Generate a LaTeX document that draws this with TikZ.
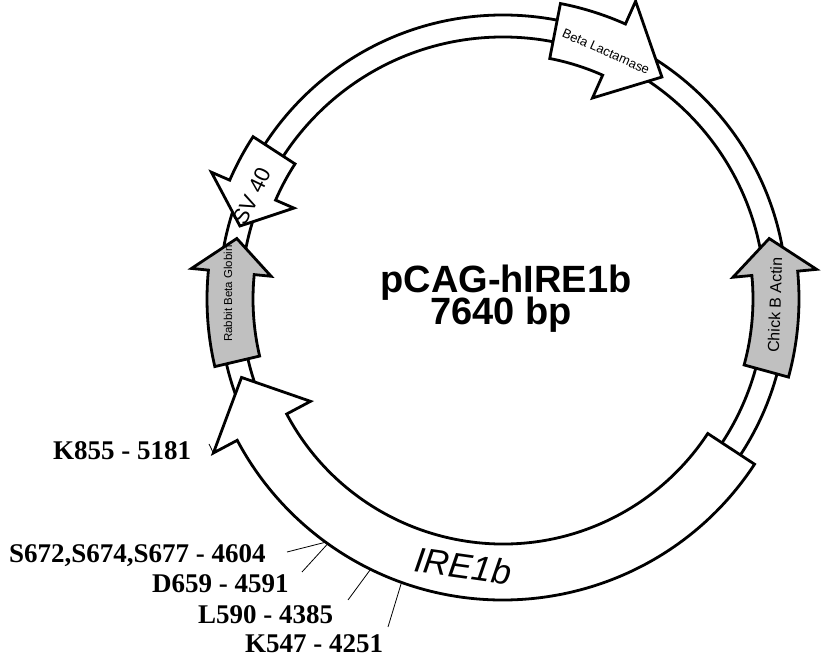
\documentclass[tikz,border=0pt]{standalone}
\usepackage{fontspec}
\setmainfont{Liberation Serif}
\setsansfont{Liberation Sans}
\usepackage{tikz}
\usetikzlibrary{positioning, calc}
\definecolor{pmink}{HTML}{000000}
\definecolor{pmgray}{HTML}{C0C0C0}
% feature arrow on the ring: tail, head base, tip angle, half width, head half width, style
\newcommand{\featarrow}[6]{%
  \draw[#6] ({#1}:{273+#4}) arc[start angle={#1}, end angle={#2}, radius={273+#4}]
    -- ({#2}:{273+#5}) -- ({#3}:273) -- ({#2}:{273-#5})
    -- ({#2}:{273-#4}) arc[start angle={#2}, end angle={#1}, radius={273-#4}] -- cycle;}
\newcommand{\fs}[1]{\fontsize{#1}{#1}\selectfont}

\begin{document}
\begin{tikzpicture}[
  x=1pt, y=1pt,
  ring/.style={draw=pmink, line width=2.8pt},
  feat/.style={draw=pmink, line width=2.8pt, fill=white},
  gfeat/.style={feat, fill=pmgray},
  flabel/.style={font=\sffamily\fs{#1}, inner sep=0pt},
  lbl/.style={font=\bfseries\fs{27}, inner sep=0pt, anchor=base west},
  lead/.style={draw=pmink, line width=0.8pt}
]
  \useasboundingbox (0,0) rectangle (825,658);
  \begin{scope}[shift={(503,359)}]
    % backbone
    \draw[ring] (0,0) circle (284);
    \draw[ring] (0,0) circle (262);
    % features
    \featarrow{79}{66}{54.4}{28}{53}{feat}
    \featarrow{-15.3}{5.4}{12.8}{23}{42}{gfeat}
    \featarrow{193.2}{174.4}{167.2}{23}{40}{gfeat}
    \featarrow{147}{156.5}{164.5}{25}{45}{feat}
    \featarrow{326.7}{208}{196.7}{28}{55}{feat}
    \node[flabel=13, rotate=-24] (bla) at (67.4:268) {Beta Lactamase};
    \node[flabel=16, rotate=88] (cba) at (-1.3:272) {Chick B Actin};
    \node[flabel=11.5, rotate=90] (rbg) at (178.9:275) {Rabbit Beta Globin};
    \node[flabel=22, rotate=64] (sv40) at (157.7:271) {SV 40};
    \node[font=\sffamily\itshape\fs{35}, inner sep=0pt, rotate=-8] (ire) at (261.5:270) {IRE1b};
    % sites on the IRE1b arc
    \coordinate (barb) at (207.8:328);
    \coordinate (p4604) at (233.9:301);
    \coordinate (p4591) at (234.4:301);
    \coordinate (p4385) at (243.9:301);
    \coordinate (p4251) at (250.3:301);
  \end{scope}

  \node[font=\sffamily\bfseries\fs{38}, inner sep=0pt, anchor=base] (title) at (506,365) {pCAG-hIRE1b};
  \node[font=\sffamily\bfseries\fs{38}, inner sep=0pt, anchor=base] (size) at (501,333) {7640 bp};

  \node[lbl] (k855) at (53,198) {K855 - 5181};
  \node[lbl] (s672) at (9,95) {S672,S674,S677 - 4604};
  \node[lbl] (d659) at (152,65) {D659 - 4591};
  \node[lbl] (l590) at (198,34) {L590 - 4385};
  \node[lbl] (k547) at (245,5) {K547 - 4251};

  \coordinate (t5181) at (209,214);
  \coordinate (t4604) at (287,106);
  \coordinate (t4591) at (302,86);
  \coordinate (t4385) at (348,58);
  \coordinate (t4251) at (388,31);

  \draw[lead] (t5181) -- (barb);
  \draw[lead] (t4604) -- (p4604);
  \draw[lead] (t4591) -- (p4591);
  \draw[lead] (t4385) -- (p4385);
  \draw[lead] (t4251) -- (p4251);
\end{tikzpicture}
\end{document}
